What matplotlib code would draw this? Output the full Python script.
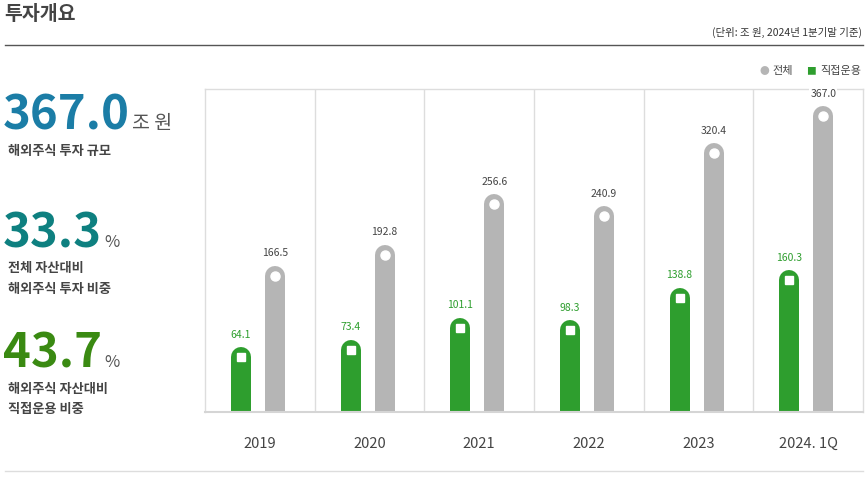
import matplotlib
matplotlib.use('Agg')
import matplotlib.pyplot as plt
import numpy as np

plt.rcParams['font.family'] = ['Noto Sans CJK KR', 'DejaVu Sans']

years = ['2019', '2020', '2021', '2022', '2023', '2024. 1Q']
total = [166.5, 192.8, 256.6, 240.9, 320.4, 367.0]
direct = [64.1, 73.4, 101.1, 98.3, 138.8, 160.3]

GREEN = '#2e9e2e'
GRAY = '#b5b5b5'
TXT = '#444444'

W, H = 868, 478
fig = plt.figure(figsize=(W / 100, H / 100), dpi=100)

def px(x, y):
    return x / W, 1 - y / H

# header
fig.text(*px(4, 15), '투자개요', fontsize=14, fontweight='bold', color=TXT, va='center')
fig.text(*px(862, 32), '(단위: 조 원, 2024년 1분기말 기준)', fontsize=7.5, color='#333333',
         ha='right', va='center', fontweight='medium')
fig.add_artist(plt.Line2D([5 / W, 863 / W], [1 - 45 / H] * 2, color='#555555', lw=1))
fig.add_artist(plt.Line2D([5 / W, 863 / W], [1 - 471 / H] * 2, color='#dddddd', lw=1))

# left summary: big number followed by its unit
renderer = fig.canvas.get_renderer()

def big_number(y, s, unit, color, usize):
    t = fig.text(*px(3, y), s, fontsize=34, fontweight='bold', color=color, va='baseline')
    bb = t.get_window_extent(renderer)
    fig.text(bb.x1 / W + 2 / W, 1 - (y - 1) / H, unit, fontsize=usize, color='#555555', va='baseline')

big_number(130, '367.0', '조 원', '#1b7da6', 14)
fig.text(*px(8, 151), '해외주식 투자 규모', fontsize=9.5, fontweight='bold', color=TXT, va='center')

big_number(248, '33.3', '%', '#0e8080', 12)
fig.text(*px(8, 268), '전체 자산대비', fontsize=9.5, fontweight='bold', color=TXT, va='center')
fig.text(*px(8, 289), '해외주식 투자 비중', fontsize=9.5, fontweight='bold', color=TXT, va='center')

big_number(368, '43.7', '%', '#3a8a12', 12)
fig.text(*px(8, 389), '해외주식 자산대비', fontsize=9.5, fontweight='bold', color=TXT, va='center')
fig.text(*px(8, 409), '직접운용 비중', fontsize=9.5, fontweight='bold', color=TXT, va='center')

# legend
fig.text(*px(764, 71), '●', fontsize=7, color=GRAY, ha='center', va='center')
fig.text(*px(772, 71), '전체', fontsize=8, color=TXT, va='center')
fig.text(*px(811, 71), '■', fontsize=7, color=GREEN, ha='center', va='center')
fig.text(*px(820, 71), '직접운용', fontsize=8, color=TXT, va='center')

# chart
ax = fig.add_axes([205 / W, 1 - 412 / H, 658 / W, 323 / H])
ax.set_xlim(-0.5, len(years) - 0.5)
ymin, ymax = -5, 401
ax.set_ylim(ymin, ymax)

x = np.arange(len(years))
off_g, off_t = -0.173, 0.137
bw = 14.4
for i in range(len(years)):
    ax.plot([x[i] + off_g] * 2, [ymin, direct[i]], color=GREEN, lw=bw, solid_capstyle='round')
    ax.plot([x[i] + off_t] * 2, [ymin, total[i]], color=GRAY, lw=bw, solid_capstyle='round')
ax.plot(x + off_g, direct, ls='none', marker='s', ms=6, color='white')
ax.plot(x + off_t, total, ls='none', marker='o', ms=6.5, color='white')

for i in range(len(years)):
    ax.annotate(f'{direct[i]:.1f}', (x[i] + off_g, direct[i]), xytext=(0, 16),
                textcoords='offset points', ha='center', va='center', fontsize=7.5, color=GREEN,
                bbox=dict(fc='white', ec='none', pad=0.5))
    ax.annotate(f'{total[i]:.1f}', (x[i] + off_t, total[i]), xytext=(0, 16),
                textcoords='offset points', ha='center', va='center', fontsize=7.5, color=TXT,
                bbox=dict(fc='white', ec='none', pad=0.5))

for b in np.arange(0.5, len(years) - 0.5):
    ax.axvline(b, color='#dddddd', lw=1, zorder=0)
for s in ax.spines.values():
    s.set_color('#dddddd')
    s.set_linewidth(1)
ax.spines['bottom'].set_linewidth(1.5)
ax.spines['bottom'].set_color('#d5d5d5')

ax.set_yticks([])
ax.set_xticks(x)
ax.set_xticklabels(years, fontsize=10.5, color=TXT)
ax.tick_params(axis='x', length=0, pad=18)

fig.savefig('out.png', dpi=100)
